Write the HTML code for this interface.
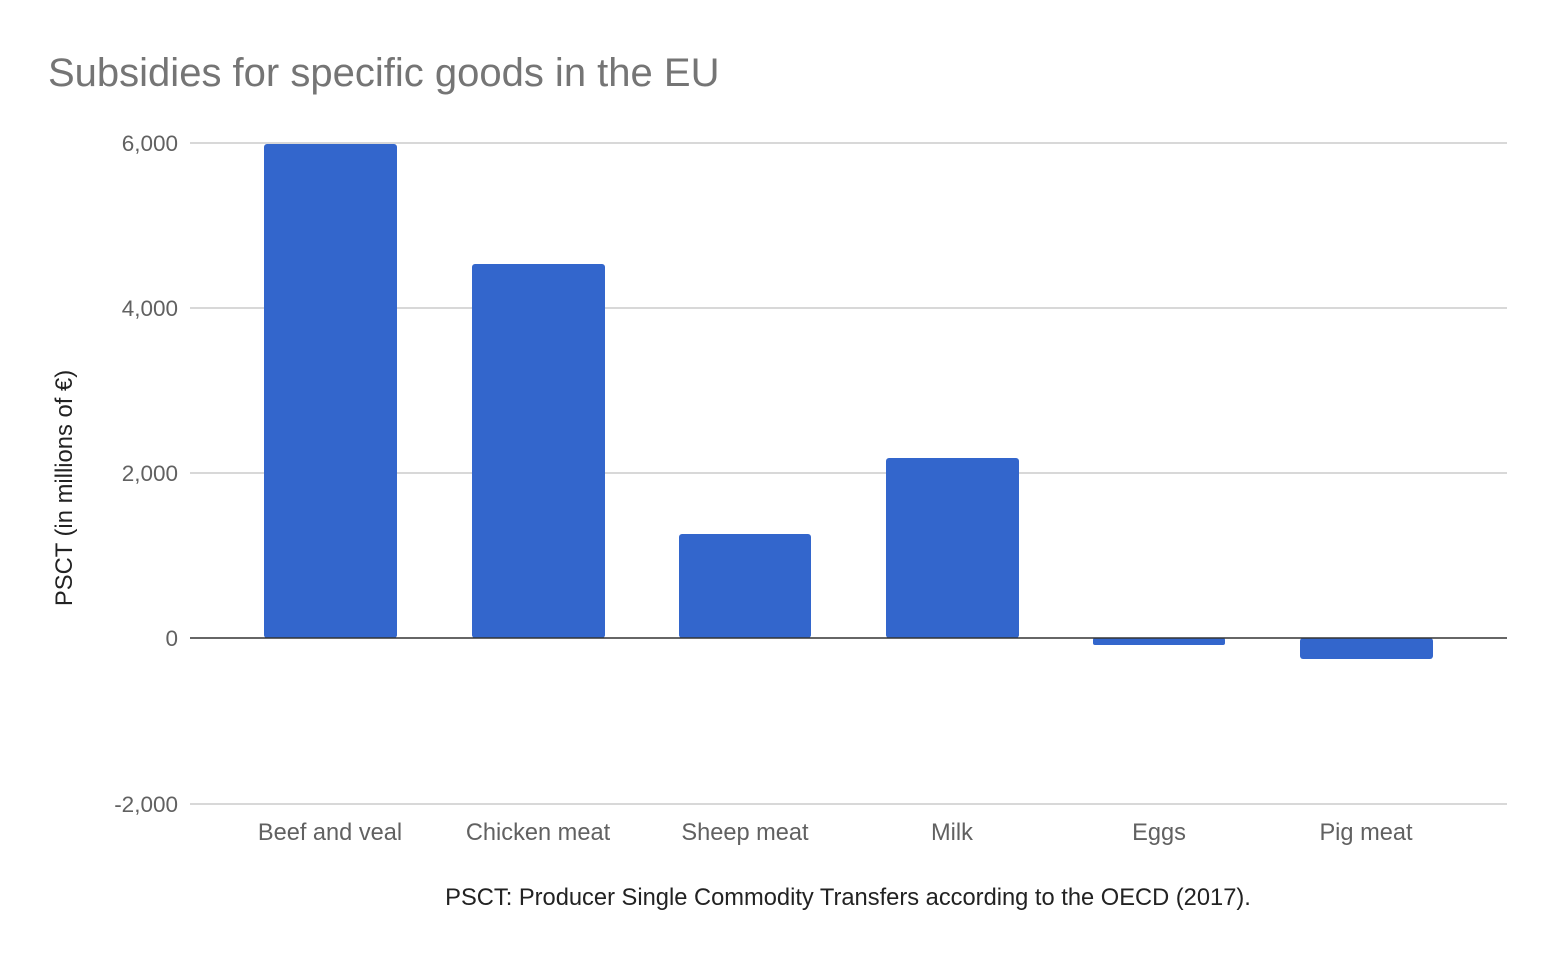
<!DOCTYPE html>
<html><head><meta charset="utf-8"><style>
html,body{margin:0;padding:0;background:#fff;}
svg{display:block;font-family:"Liberation Sans",Arial,sans-serif;}
</style></head><body>
<svg width="1554" height="960" viewBox="0 0 1554 960">
<rect width="1554" height="960" fill="#fff"/>
<text x="48" y="86" font-size="40" fill="#757575">Subsidies for specific goods in the EU</text>
<g stroke="#cccccc" stroke-width="1.5">
<line x1="190" y1="143" x2="1507" y2="143"/>
<line x1="190" y1="308" x2="1507" y2="308"/>
<line x1="190" y1="473" x2="1507" y2="473"/>
<line x1="190" y1="804" x2="1507" y2="804"/>
</g>
<g font-size="22.5" fill="#616161" text-anchor="end">
<text x="178" y="151">6,000</text>
<text x="178" y="316">4,000</text>
<text x="178" y="481">2,000</text>
<text x="178" y="646">0</text>
<text x="178" y="812">-2,000</text>
</g>
<g fill="#3366cc">
<rect x="264" y="144" width="133" height="494" rx="3"/>
<rect x="472" y="264" width="133" height="374" rx="3"/>
<rect x="679" y="534" width="132" height="104" rx="3"/>
<rect x="886" y="458" width="133" height="180" rx="3"/>
<rect x="1093" y="638" width="132" height="7" rx="2"/>
<rect x="1300" y="638" width="133" height="21" rx="3"/>
</g>
<line x1="190" y1="638" x2="1507" y2="638" stroke="#333" stroke-width="1.5"/>
<g font-size="23.6" fill="#616161" text-anchor="middle">
<text x="330" y="840">Beef and veal</text>
<text x="538" y="840">Chicken meat</text>
<text x="745" y="840">Sheep meat</text>
<text x="952" y="840">Milk</text>
<text x="1159" y="840">Eggs</text>
<text x="1366" y="840">Pig meat</text>
</g>
<text x="848" y="905" font-size="23.7" fill="#222" text-anchor="middle">PSCT: Producer Single Commodity Transfers according to the OECD (2017).</text>
<text transform="translate(72,488) rotate(-90)" font-size="23.8" fill="#222" text-anchor="middle">PSCT (in millions of €)</text>
</svg>
</body></html>
